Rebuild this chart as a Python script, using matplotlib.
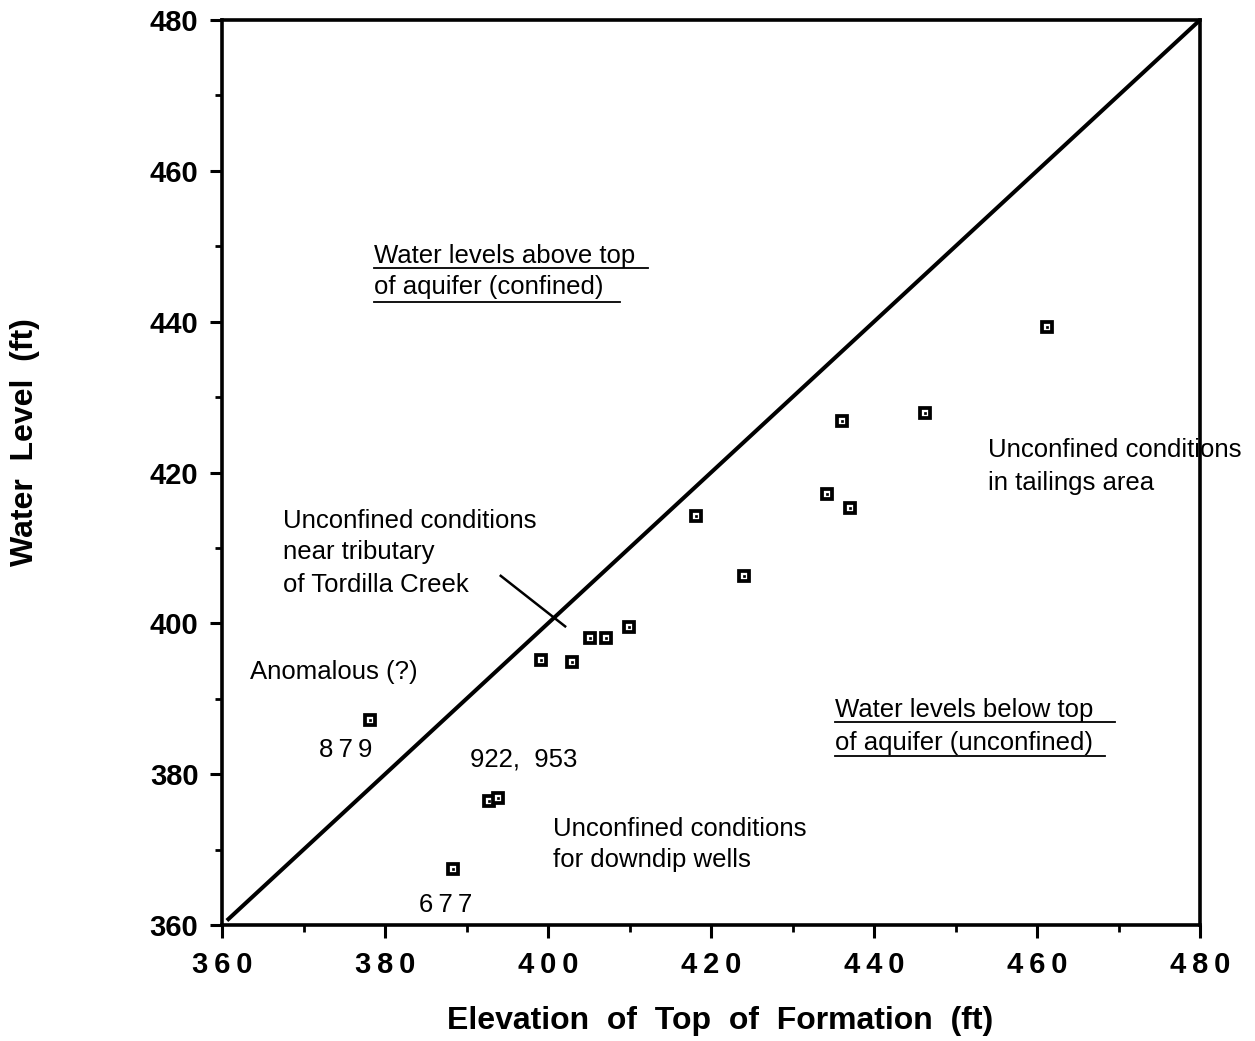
import matplotlib
matplotlib.use("Agg")
import matplotlib.pyplot as plt
from matplotlib.ticker import MultipleLocator

plt.rcParams['font.family'] = ['Liberation Sans', 'DejaVu Sans']

# Data
top_of_formation = [378.1, 388.3, 392.8, 393.9, 399.1, 403.0, 405.1, 407.1, 409.9,
                    418.2, 424.1, 434.2, 436.1, 437.1, 446.2, 461.2]
water_level = [387.2, 367.4, 376.4, 376.8, 395.1, 394.9, 398.0, 398.0, 399.5,
               414.2, 406.3, 417.1, 426.8, 415.3, 427.9, 439.3]
x_ticks = [360, 380, 400, 420, 440, 460, 480]
y_ticks = [360, 380, 400, 420, 440, 460, 480]

fig = plt.figure(figsize=(12.55, 10.41), dpi=100)
ax = fig.add_axes([0.1769, 0.1114, 0.7793, 0.8694])

ax.set_xlim(360, 480)
ax.set_ylim(360, 480)

# 1:1 line
ax.plot([360.6, 480], [360.6, 480], color='black', lw=2.9, solid_capstyle='butt', zorder=2)

# leader line
ax.plot([394.2, 402.1], [406.3, 399.6], color='black', lw=1.8, zorder=2)

# markers
ax.plot(top_of_formation, water_level, linestyle='none', marker='s', ms=7.5,
        mfc='white', mec='black', mew=2.7, zorder=3)
ax.plot(top_of_formation, water_level, linestyle='none', marker='s', ms=1.6,
        mfc='black', mec='black', mew=0.5, zorder=4)

for s in ax.spines.values():
    s.set_linewidth(2.6)

ax.set_xticks(x_ticks, labels=['\u2009'.join(str(v)) for v in x_ticks],
              fontsize=21, fontweight='bold')
ax.set_yticks(y_ticks, labels=[str(v) for v in y_ticks],
              fontsize=21, fontweight='bold')
ax.xaxis.set_minor_locator(MultipleLocator(10))
ax.yaxis.set_minor_locator(MultipleLocator(10))
ax.tick_params(which='major', direction='out', length=9, width=2.2, top=False, right=False)
ax.tick_params(which='minor', direction='out', length=5, width=2.0, top=False, right=False)
ax.tick_params(axis='x', pad=10)
ax.tick_params(axis='y', pad=8)

ax.set_xlabel('Elevation  of  Top  of  Formation  (ft)', fontsize=23, fontweight='bold')
ax.set_ylabel('Water  Level  (ft)', fontsize=23, fontweight='bold')
ax.xaxis.set_label_coords(0.509, -0.089)
ax.xaxis.label.set_va('top')
ax.yaxis.set_label_coords(-0.186, 0.534)

fs = 18.5
def txt(x, y, s, **kw):
    ax.text(x, y, s, fontsize=kw.pop('size', fs), va='center', ha=kw.pop('ha', 'left'), **kw)

txt(378.65, 448.7, 'Water levels above top')
txt(378.65, 444.6, 'of aquifer (confined)')
ax.plot([378.65, 412.3], [447.1, 447.1], color='black', lw=1.3)
ax.plot([378.65, 408.8], [442.6, 442.6], color='black', lw=1.3)

txt(367.5, 413.6, 'Unconfined conditions')
txt(367.5, 409.4, 'near tributary')
txt(367.5, 405.1, 'of Tordilla Creek')

txt(363.4, 393.5, 'Anomalous (?)')
txt(375.2, 383.2, '8\u20097\u20099', ha='center')
txt(390.4, 381.9, '922,  953')
txt(387.4, 362.6, '6\u20097\u20097', ha='center')

txt(400.6, 372.7, 'Unconfined conditions')
txt(400.6, 368.6, 'for downdip wells')

txt(454.0, 423.0, 'Unconfined conditions')
txt(454.0, 418.6, 'in tailings area')

txt(435.2, 388.5, 'Water levels below top')
txt(435.2, 384.1, 'of aquifer (unconfined)')
ax.plot([435.2, 469.6], [386.9, 386.9], color='black', lw=1.3)
ax.plot([435.2, 468.3], [382.4, 382.4], color='black', lw=1.3)

fig.savefig('out.png', dpi=100)
